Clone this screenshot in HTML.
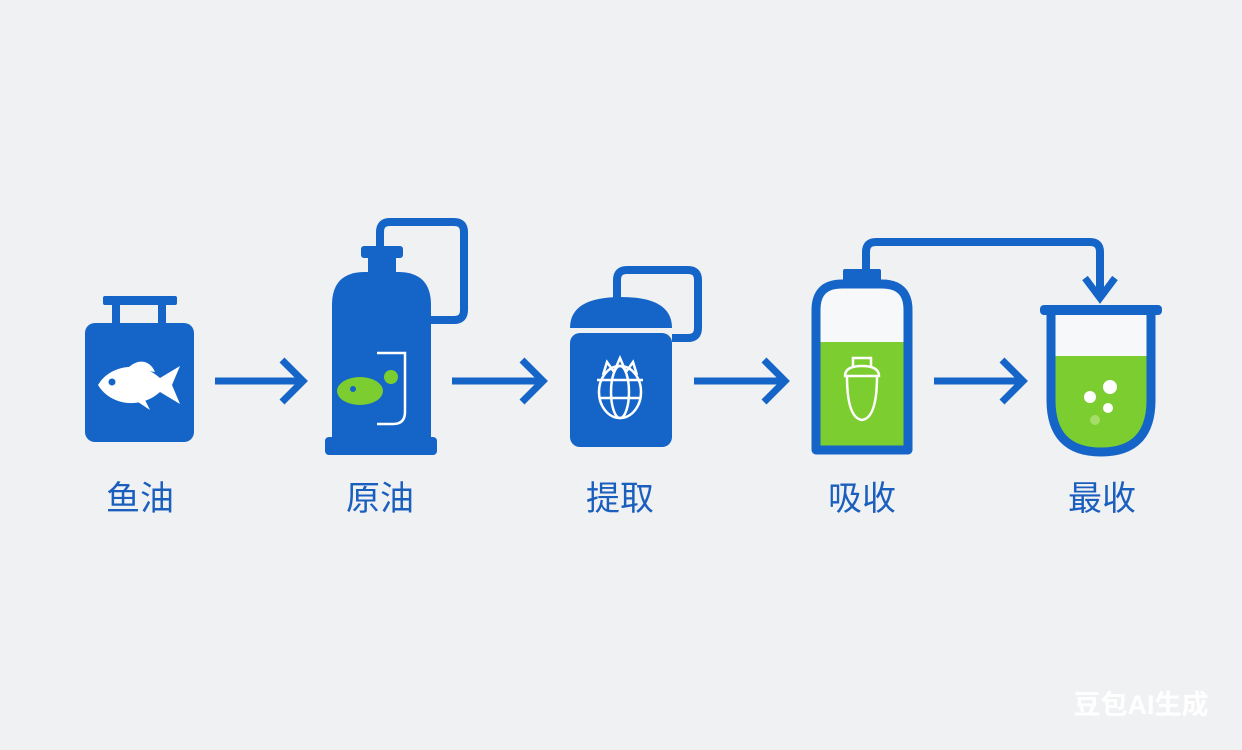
<!DOCTYPE html>
<html><head><meta charset="utf-8"><style>
html,body{margin:0;padding:0;background:#eff1f3;}
svg{display:block}
text{font-family:"Liberation Sans","Noto Sans CJK SC",sans-serif;}
</style></head><body>
<svg width="1242" height="750" viewBox="0 0 1242 750" xmlns="http://www.w3.org/2000/svg">
<rect width="1242" height="750" fill="#eff1f3"/>
<g fill="#1565c8" stroke="none">
<rect x="103" y="296" width="74" height="9" rx="2"/>
<rect x="112" y="303" width="8" height="24"/>
<rect x="158" y="303" width="8" height="24"/>
<rect x="85" y="323" width="109" height="119" rx="10"/>
</g>
<g fill="#fff">
<path d="M98 385 C110 365 140 360 160 378 L180 366 L172 385 L180 404 L160 392 C140 410 110 405 98 385 Z"/>
<path d="M128 368 C138 358 150 360 155 372 Z"/>
<path d="M138 402 L150 410 L145 400 Z"/>
</g>
<circle cx="112" cy="382" r="3.5" fill="#1565c8"/>
<g stroke="#1565c8" stroke-width="7" fill="none" stroke-linecap="butt">
<line x1="215" y1="381" x2="300" y2="381"/><polyline points="282,360 303,381 282,402"/>
<line x1="452" y1="381" x2="540" y2="381"/><polyline points="522,360 543,381 522,402"/>
<line x1="694" y1="381" x2="782" y2="381"/><polyline points="764,360 785,381 764,402"/>
<line x1="934" y1="381" x2="1020" y2="381"/><polyline points="1002,360 1023,381 1002,402"/>
</g>
<path d="M380 250 V232 Q380 222 390 222 H454 Q464 222 464 232 V310 Q464 320 454 320 H430" stroke="#1565c8" stroke-width="8" fill="none"/>
<g fill="#1565c8">
<rect x="361" y="246" width="42" height="12" rx="3"/>
<rect x="368" y="256" width="28" height="20"/>
<path d="M332 445 V305 Q332 272 365 272 H398 Q431 272 431 305 V445 Z"/>
<rect x="325" y="437" width="112" height="18" rx="4"/>
</g>
<path d="M377 353 H405 V412 Q405 424 393 424 H377" stroke="#fff" stroke-width="2.5" fill="none"/>
<ellipse cx="360" cy="391" rx="23" ry="14" fill="#7ccd2f"/>
<circle cx="391" cy="377" r="7" fill="#7ccd2f"/>
<circle cx="353" cy="389" r="3" fill="#1565c8"/>
<path d="M617 300 V280 Q617 270 627 270 H688 Q698 270 698 280 V328 Q698 338 688 338 H672" stroke="#1565c8" stroke-width="8" fill="none"/>
<g fill="#1565c8">
<path d="M570 328 Q570 297 621 297 Q672 297 672 328 Z"/>
<rect x="570" y="333" width="102" height="114" rx="10"/>
</g>
<g stroke="#fff" stroke-width="2.5" fill="none">
<ellipse cx="620" cy="392" rx="21" ry="26"/>
<ellipse cx="620" cy="392" rx="9" ry="26"/>
<line x1="597" y1="380" x2="643" y2="380"/>
<line x1="599" y1="398" x2="641" y2="398"/>
<path d="M603 375 L607 362 L614 372 L620 358 L626 372 L633 362 L637 375"/>
</g>
<path d="M866 270 V252 Q866 242 876 242 H1090 Q1100 242 1100 252 V295" stroke="#1565c8" stroke-width="8" fill="none"/>
<polyline points="1085,278 1100,298 1115,278" stroke="#1565c8" stroke-width="7" fill="none"/>
<rect x="843" y="269" width="38" height="16" rx="2" fill="#1565c8"/>
<path d="M816 342 V310 Q816 284 842 284 H882 Q908 284 908 310 V342 Z" fill="#f7f8f9"/>
<rect x="816" y="342" width="92" height="105" fill="#7ccd2f"/>
<path d="M816 450 V310 Q816 284 842 284 H882 Q908 284 908 310 V450 Z" stroke="#1565c8" stroke-width="9" fill="none" stroke-linejoin="round"/>
<g stroke="#fff" stroke-width="2.5" fill="none">
<path d="M853 368 V358 H871 V368"/>
<path d="M845 376 Q845 366 862 366 Q879 366 879 376 Z"/>
<path d="M847 376 Q847 418 862 420 Q877 418 877 376"/>
</g>
<rect x="1051" y="312" width="100" height="44" fill="#f7f8f9"/>
<path d="M1051 356 H1151 V400 Q1151 452 1101 452 Q1051 452 1051 400 Z" fill="#7ccd2f"/>
<path d="M1051 312 V400 Q1051 452 1101 452 Q1151 452 1151 400 V312" stroke="#1565c8" stroke-width="9" fill="none"/>
<rect x="1040" y="305" width="122" height="10" rx="4" fill="#1565c8"/>
<g fill="#fff"><circle cx="1110" cy="387" r="7"/><circle cx="1090" cy="397" r="6"/><circle cx="1108" cy="408" r="5"/></g>
<circle cx="1095" cy="420" r="5" fill="#a4dd6a"/>
<g fill="#1b5fbe" font-size="34" text-anchor="middle">
<text x="140" y="510">鱼油</text>
<text x="380" y="510">原油</text>
<text x="620" y="510">提取</text>
<text x="862" y="510">吸收</text>
<text x="1102" y="510">最收</text>
</g>
<text x="1141" y="714" fill="#fff" font-size="27" font-weight="bold" text-anchor="middle">豆包AI生成</text>
</svg>
</body></html>
